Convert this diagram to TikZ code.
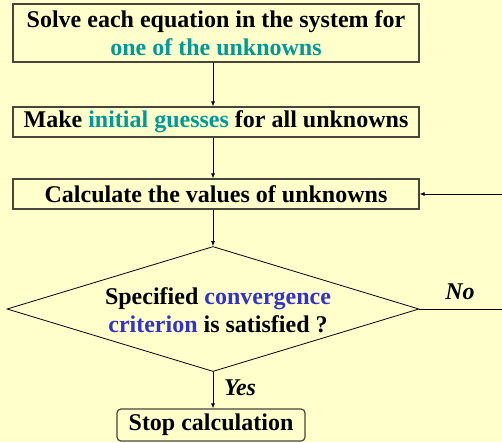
\documentclass[tikz,border=0pt]{standalone}
\usepackage{fontspec}
\setmainfont{Liberation Serif}
\usetikzlibrary{arrows.meta,shapes.geometric}
\definecolor{bg}{RGB}{255,255,204}
\definecolor{tealtxt}{RGB}{0,153,153}
\definecolor{bluetxt}{RGB}{51,51,204}
\definecolor{border}{RGB}{70,70,60}
\begin{document}
\begin{tikzpicture}[x=1pt,y=-1pt,
  txt/.style={font=\fontsize{24}{28}\selectfont\bfseries},
  box/.style={draw=border,line width=1.2pt,inner sep=0pt,minimum width=406pt,txt,align=center},
  arr/.style={draw=black,line width=0.8pt,-{Latex[length=5pt,width=4pt]}},
  lbl/.style={font=\fontsize{24}{28}\selectfont\bfseries\itshape}]
\clip (0,0) rectangle (502,442);
\fill[bg] (0,0) rectangle (502,442);
\node[box,minimum height=58pt] (b1) at (216,33) {Solve each equation in the system for\\\textcolor{tealtxt}{one of the unknowns}};
\node[box,minimum height=30pt] (b2) at (216,122) {Make \textcolor{tealtxt}{initial guesses} for all unknowns};
\node[box,minimum height=30pt] (b3) at (216,194) {Calculate the values of unknowns};
\node[diamond,draw=black,line width=0.8pt,minimum width=412pt,minimum height=125pt,inner sep=0pt] (d) at (213,309) {};
\node[txt,align=center] (dt) at (218,310) {Specified \textcolor{bluetxt}{convergence}\\\textcolor{bluetxt}{criterion} is satisfied ?};
\node[box,rounded corners=4pt,minimum width=188pt,minimum height=32pt] (s) at (211,425) {Stop calculation};
\draw[arr] (b1.south -| d.north) -- (b2.north -| d.north);
\draw[arr] (b2.south -| d.north) -- (b3.north -| d.north);
\draw[arr] (b3.south -| d.north) -- (d.north);
\draw[arr] (d.south) -- (s.north -| d.south);
\draw[arr] (d.east) -- ++(95,0) |- (b3.east);
\node[lbl] (no) at (460,292) {No};
\node[lbl] (yes) at (240,388) {Yes};
\end{tikzpicture}
\end{document}
